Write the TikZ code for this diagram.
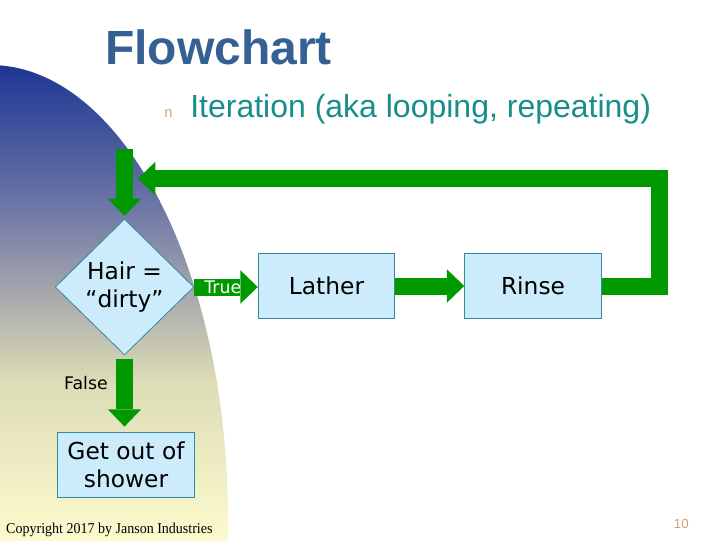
\documentclass[tikz,border=0pt]{standalone}
\usepackage{fontspec}
\setmainfont{DejaVu Sans}
\newfontfamily\arialfont{Liberation Sans}
\newfontfamily\timesfont{Liberation Serif}
\usepackage{xcolor}
\usetikzlibrary{shapes.geometric, arrows.meta, positioning, calc}

\definecolor{titleblue}{RGB}{52,96,148}
\definecolor{iterteal}{RGB}{24,142,140}
\definecolor{bullettan}{RGB}{205,160,125}
\definecolor{boxfill}{RGB}{204,236,252}
\definecolor{boxline}{RGB}{48,140,156}
\definecolor{flowgreen}{RGB}{0,153,0}
\definecolor{bgblue}{RGB}{28,52,148}
\definecolor{bgmid}{RGB}{105,115,165}
\definecolor{bggray}{RGB}{165,165,172}
\definecolor{bgbeige}{RGB}{220,220,182}
\definecolor{bgyellow}{RGB}{253,250,205}

\begin{document}
\begin{tikzpicture}[x=0.75pt, y=-0.75pt,
		stepbox/.style={draw=boxline, fill=boxfill, line width=0.6pt, inner sep=0pt,
			minimum width=102.5pt, minimum height=48.75pt, align=center,
			font=\fontsize{17.5}{21}\selectfont},
		decision/.style={diamond, aspect=1, draw=boxline, fill=boxfill, line width=0.6pt,
			inner sep=-6pt, minimum width=104pt, minimum height=102pt, align=center,
			font=\fontsize{17.5}{21}\selectfont},
		flow/.style={draw=flowgreen, line width=12.75pt,
			-{Triangle[length=13pt, width=25pt, line width=0pt]}},
		flowtext/.style={font=\fontsize{13}{15}\selectfont}]
	\useasboundingbox (0,0) rectangle (720,540);
	% ---------- background: shaded quarter ellipse ----------
	\begin{scope}
		\clip (-7.5pt,-390pt) ellipse [x radius=178.5pt, y radius=341.25pt];
		\shade[top color=bgblue, bottom color=bgmid] (0,60) rectangle (260,200.5);
		\shade[top color=bgmid, bottom color=bggray] (0,200) rectangle (260,290.5);
		\shade[top color=bggray, bottom color=bgbeige] (0,290) rectangle (260,380.5);
		\shade[top color=bgbeige, bottom color=bgyellow] (0,380) rectangle (260,540);
	\end{scope}
	% ---------- title and bullet ----------
	\node[anchor=base west, inner sep=0pt, text=titleblue,
	font=\arialfont\bfseries\fontsize{36}{40}\selectfont] (title) at (105,64) {Flowchart};
	\node[anchor=base west, inner sep=0pt, text=bullettan,
	font=\arialfont\fontsize{11}{12}\selectfont] (bullet) at (164,117) {n};
	\node[anchor=base west, inner sep=0pt, text=iterteal,
	font=\arialfont\fontsize{24}{28}\selectfont] (iter) at (190,117)
	{Iteration (aka looping, repeating)};
	% ---------- flowchart ----------
	\node[decision] (dirty) at (124.5,287) {Hair =\\“dirty”};
	\node[stepbox] (lather) at (326.5,286) {Lather};
	\node[stepbox] (rinse) at (533,286) {Rinse};
	\node[stepbox] (getout) at (126,464.5) {Get out of\\shower};
	\coordinate (looptop) at (124.5,149);
	\coordinate (loopcorner) at (659.5,178.5);
	\coordinate (loopend) at (138,178.5);
	% connectors
	\draw[flow, shorten >=2pt] (looptop) -- (dirty.north);
	\draw[flow] (dirty.east) -- (dirty.east -| lather.west)
	node[pos=0.45, text=white, flowtext] (truelab) {True};
	\draw[flow] (lather.east) -- (rinse.west);
	\draw[flow, line join=miter] (rinse.east) -| (loopcorner) -- (loopend);
	\draw[flow, shorten <=3pt, shorten >=3.75pt] (dirty.south) -- (dirty.south |- getout.north);
	\node[anchor=east, inner sep=0pt, flowtext] (falselab) at (108,383) {False};
	% ---------- footer ----------
	\node[anchor=base west, inner sep=0pt, xscale=0.93,
	font=\timesfont\fontsize{11.3}{13}\selectfont] (copy) at (6,533)
	{Copyright 2017 by Janson Industries};
	\node[anchor=base east, inner sep=0pt, text=bullettan,
	font=\arialfont\fontsize{10}{12}\selectfont] (pagenum) at (689,528) {10};
\end{tikzpicture}
\end{document}
